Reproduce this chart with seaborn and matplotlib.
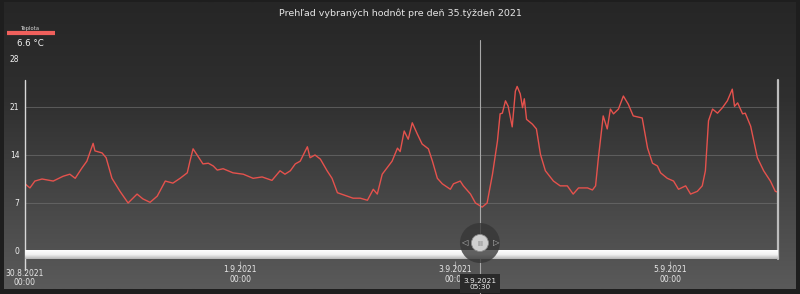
import numpy as np
import pandas as pd
import matplotlib
matplotlib.use("Agg")
import matplotlib.pyplot as plt
import matplotlib.dates as mdates
import matplotlib.transforms as mtrans
from matplotlib.colors import LinearSegmentedColormap
from matplotlib.patches import Circle
import seaborn as sns

# ---------------- data ----------------
title = "Prehľad vybraných hodnôt pre deň 35.týždeň 2021"
series_name = "Teplota"
start_time = "2021-08-30 00:00"
end_time = "2021-09-06 00:00"

hours = [0, 1.1, 2.2, 3.8, 6.3, 8.5, 10.0, 11.2, 12.7, 13.8, 15.2, 15.6, 17.2, 18.1,
         19.4, 21.2, 23.0, 25.0, 26.3, 27.9, 29.5, 31.3, 33.0, 34.6, 36.2, 36.8, 37.5,
         38.6, 39.7, 40.9, 42.0, 42.9, 44.2, 46.4, 48.7, 50.9, 52.9, 55.1, 56.9, 58.0,
         59.2, 60.3, 61.4, 63.0, 63.6, 64.7, 65.9, 67.4, 68.5, 69.7, 71.9, 73.2, 74.8,
         76.4, 77.7, 78.6, 79.7, 81.9, 83.1, 83.7, 84.6, 85.5, 86.4, 87.5, 88.6, 90.0,
         90.9, 92.0, 93.1, 94.9, 95.6, 97.1, 97.8, 99.4, 100.5, 102.0, 103.1, 104.3,
         105.4, 106.0, 106.5, 107.2, 107.8, 108.7, 109.4, 109.8, 110.5, 111.0, 111.4,
         111.9, 113.2, 114.1, 115.0, 116.1, 117.9, 119.4, 121.0, 122.3, 123.5, 125.5,
         126.6, 127.3, 127.9, 129.0, 129.9, 130.6, 131.3, 132.4, 133.5, 134.6, 135.7,
         137.7, 138.9, 140.0, 141.1, 141.8, 143.3, 144.7, 145.8, 147.4, 148.5, 150.0,
         151.1, 151.8, 152.5, 153.4, 154.5, 155.6, 156.7, 157.8, 158.3, 159.0, 160.1,
         160.7, 161.9, 163.4, 164.8, 166.3, 167.4, 167.9]
temps = [9.8, 9.2, 10.2, 10.5, 10.2, 10.9, 11.2, 10.6, 12.1, 13.1, 15.7, 14.6, 14.3, 13.6,
         10.6, 8.7, 7.0, 8.3, 7.6, 7.1, 8.0, 10.2, 9.9, 10.6, 11.4, 13.1, 14.9,
         13.8, 12.7, 12.8, 12.4, 11.8, 12.0, 11.4, 11.2, 10.6, 10.8, 10.3, 11.7, 11.2,
         11.7, 12.7, 13.1, 15.2, 13.6, 14.0, 13.4, 11.7, 10.6, 8.5, 8.0, 7.7, 7.7,
         7.4, 9.0, 8.3, 11.2, 13.1, 15.0, 14.5, 17.5, 16.3, 18.7, 17.1, 15.6, 14.9,
         13.1, 10.6, 9.8, 9.0, 9.8, 10.2, 9.5, 8.3, 7.0, 6.4, 7.0, 11.2,
         16.0, 20.0, 20.1, 21.9, 21.1, 18.1, 23.3, 24.0, 22.9, 20.9, 22.2,
         19.2, 18.5, 17.8, 14.1, 11.7, 10.2, 9.5, 9.5, 8.3, 9.2, 9.2,
         8.9, 9.5, 13.4, 19.7, 17.8, 20.7, 20.0, 20.7, 22.6, 21.4, 19.7,
         19.4, 15.0, 12.8, 12.4, 11.4, 10.6, 10.2, 9.0, 9.5, 8.3, 8.7,
         9.5, 11.7, 19.0, 20.7, 20.1, 20.9, 21.9, 23.6, 21.1, 21.6, 20.0,
         20.1, 18.2, 13.6, 11.7, 10.2, 8.7, 8.6]

y_ticks = [0, 7, 14, 21, 28]
tick_dates = ["2021-08-30 00:00", "2021-09-01 00:00", "2021-09-03 00:00", "2021-09-05 00:00"]
tick_labels = ["30.8.2021\n00:00", "1.9.2021\n00:00", "3.9.2021\n00:00", "5.9.2021\n00:00"]
cursor_time = "2021-09-03 05:30"
cursor_label = "3.9.2021\n05:30"
cursor_value = 6.6

# ---------------- build ----------------
start = pd.Timestamp(start_time)
end = pd.Timestamp(end_time)
df = pd.DataFrame({"time": start + pd.to_timedelta(hours, unit="h"), "temp": temps})

sns.set_theme(style="dark")
plt.rcParams["font.family"] = ["DejaVu Sans"]

W, H = 800, 294
fig = plt.figure(figsize=(W / 100, H / 100), dpi=100)
fig.patch.set_facecolor("#1e1e1e")

# background gradient
bg = fig.add_axes([0, 0, 1, 1])
bg.set_xlim(0, W)
bg.set_ylim(H, 0)
bg.axis("off")
grad = np.linspace(0, 1, 256).reshape(-1, 1)
cmap_bg = LinearSegmentedColormap.from_list("bg", ["#262626", "#2f2f2f", "#454545", "#5a5a5a"])
bg.imshow(grad, extent=[4, W - 4, 289, 2], cmap=cmap_bg, aspect="auto", zorder=0)

# data axes
ax = fig.add_axes([25 / W, 1 - 251 / H, 753 / W, 192 / H])
ax.patch.set_alpha(0)
sns.lineplot(data=df, x="time", y="temp", ax=ax, color="#e5524d", lw=1.0)
ax.set_xlim(start, end)
ax.set_ylim(y_ticks[0], y_ticks[-1])
ax.set_xlabel("")
ax.set_ylabel("")
for v in y_ticks[1:-1]:
    ax.axhline(v, color="#6e6e6e", lw=0.6, alpha=0.8, zorder=0)
for s in ax.spines.values():
    s.set_visible(False)
ax.spines["bottom"].set_position(("outward", 7))
ax.set_yticks(y_ticks)
ax.set_yticklabels([str(v) for v in y_ticks])
ax.tick_params(axis="y", length=0, pad=4, labelsize=5.5, labelcolor="#f0f0f0")
ax.set_xticks(pd.to_datetime(tick_dates))
ax.set_xticklabels(tick_labels)
ax.tick_params(axis="x", length=5, width=0.8, color="#9a9a9a", pad=0, labelsize=5.5,
               labelcolor="#e8e8e8", bottom=True)
xlabs = ax.get_xticklabels()
for i, lab in enumerate(xlabs):
    lab.set_linespacing(1.05)
    dy = -0.01 if i == 0 else 0.025
    lab.set_transform(lab.get_transform() +
                      mtrans.ScaledTranslation(0, dy, fig.dpi_scale_trans))

ct = pd.Timestamp(cursor_time)
ax.axvline(start, ymin=-0.10, ymax=0.89, color="#d8d8d8", lw=1.0, clip_on=False, zorder=3)
ax.axvline(end, ymin=-0.04, ymax=0.89, color="#bdbdbd", lw=1.6, clip_on=False, zorder=3)
ax.axvline(ct, ymin=-0.23, ymax=1.10, color="#a8a8a8", lw=0.8, clip_on=False, zorder=4)
trans = mtrans.blended_transform_factory(ax.transData, ax.transAxes)
ax.text(ct, -0.17, cursor_label, transform=trans, ha="center", va="center",
        fontsize=5.3, color="#f0f0f0", linespacing=1.05, zorder=6,
        bbox=dict(boxstyle="square,pad=0.5", fc="#2a2a2a", ec="none"))

# overlay: scrollbar, knob, legend, title
fig.canvas.draw()
cx = ax.transData.transform((mdates.date2num(ct), 0))[0]
ov = fig.add_axes([0, 0, 1, 1])
ov.set_xlim(0, W)
ov.set_ylim(H, 0)
ov.axis("off")
ov.patch.set_alpha(0)
sb = np.linspace(0, 1, 64).reshape(-1, 1)
cmap_sb = LinearSegmentedColormap.from_list("sb", ["#ffffff", "#f2f2f2", "#b5b5b5"])
ov.imshow(sb, extent=[25, 778, 259, 250], cmap=cmap_sb, aspect="auto", zorder=1)
ov.add_patch(Circle((cx, 243), 20, fc="#363636", ec="none", alpha=0.78, zorder=2))
ov.add_patch(Circle((cx, 243), 8.5, fc="#cfcfcf", ec="#8a8a8a", lw=0.6, zorder=3))
ov.text(cx, 243.5, "III", ha="center", va="center", fontsize=5, color="#777777", zorder=4)
ov.text(cx - 16, 243, "◁", ha="center", va="center", fontsize=6, color="#bbbbbb", zorder=4)
ov.text(cx + 16, 243, "▷", ha="center", va="center", fontsize=6, color="#bbbbbb", zorder=4)

ov.plot([7, 55], [33, 33], color="#f0605c", lw=3, solid_capstyle="butt", zorder=3)
ov.text(30, 28.5, series_name, ha="center", va="center", fontsize=3.8, color="#d8d8d8")
ov.text(30, 44, f"{cursor_value} °C", ha="center", va="center", fontsize=6.2, color="#f4f4f4")
ov.text(400, 13, title, ha="center", va="center", fontsize=6.8, color="#e6e6e6")

fig.savefig("out.png", dpi=100, facecolor=fig.get_facecolor())
